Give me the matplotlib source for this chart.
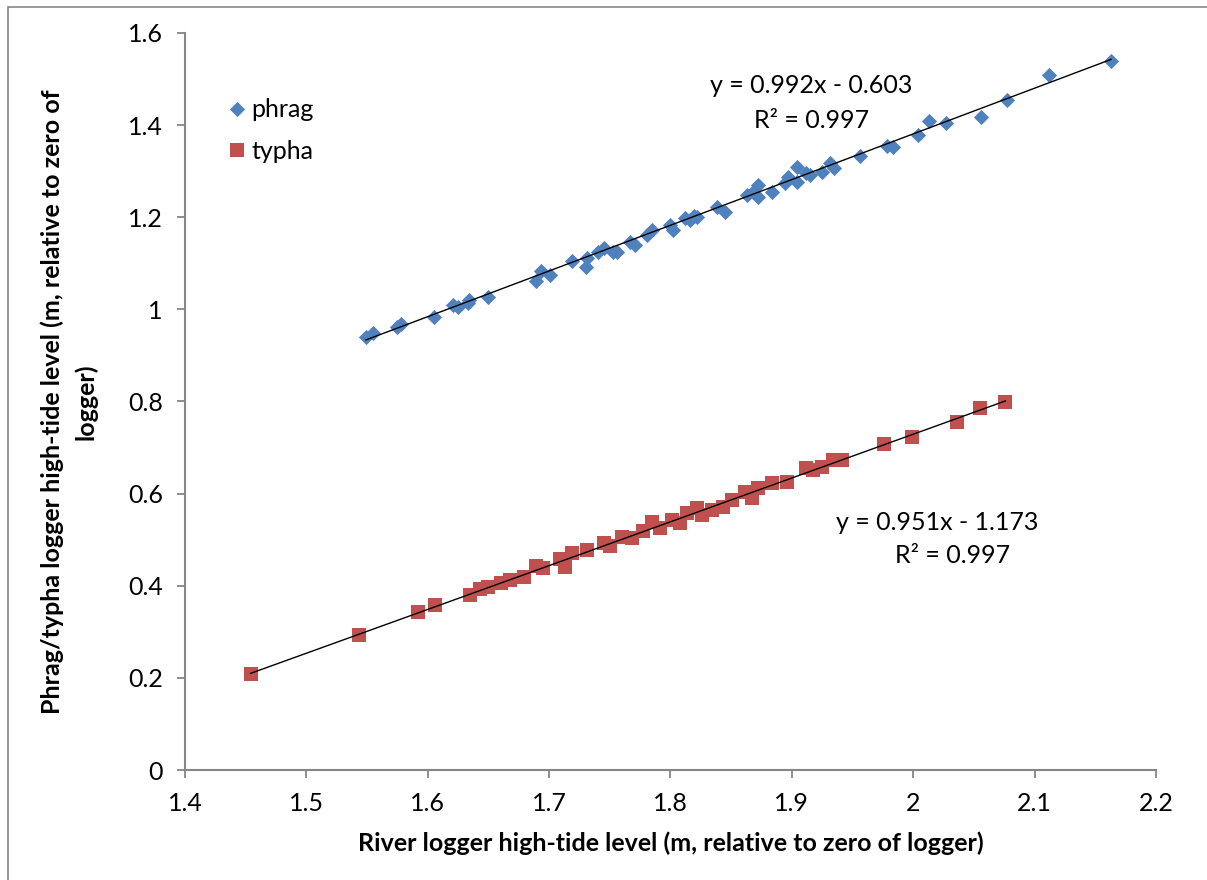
import matplotlib
matplotlib.use("Agg")
import matplotlib.pyplot as plt
from matplotlib.patches import Rectangle
import numpy as np

plt.rcParams['font.family'] = ['Lato', 'DejaVu Sans']

# ---- data ----
phrag_x = [1.549, 1.555, 1.575, 1.578, 1.605, 1.621, 1.625, 1.633, 1.634, 1.650,
           1.689, 1.693, 1.701, 1.719, 1.730, 1.731, 1.740, 1.745, 1.753, 1.756,
           1.767, 1.771, 1.781, 1.785, 1.800, 1.802, 1.812, 1.816, 1.819, 1.822,
           1.838, 1.845, 1.863, 1.868, 1.872, 1.872, 1.884, 1.894, 1.897, 1.904,
           1.904, 1.912, 1.915, 1.925, 1.931, 1.935, 1.956, 1.978, 1.983, 2.004,
           2.013, 2.027, 2.056, 2.077, 2.112, 2.163]
phrag_y = [0.940, 0.949, 0.962, 0.968, 0.983, 1.010, 1.005, 1.014, 1.020, 1.027,
           1.062, 1.083, 1.075, 1.105, 1.092, 1.112, 1.125, 1.133, 1.125, 1.125,
           1.146, 1.140, 1.162, 1.172, 1.183, 1.172, 1.198, 1.194, 1.203, 1.201,
           1.222, 1.211, 1.248, 1.255, 1.270, 1.244, 1.255, 1.274, 1.287, 1.309,
           1.277, 1.296, 1.292, 1.298, 1.318, 1.307, 1.333, 1.355, 1.353, 1.379,
           1.409, 1.405, 1.418, 1.455, 1.509, 1.539]

typha_x = [1.454, 1.543, 1.592, 1.606, 1.635, 1.643, 1.650, 1.660, 1.668, 1.679,
           1.689, 1.695, 1.709, 1.713, 1.719, 1.731, 1.745, 1.750, 1.760, 1.768,
           1.777, 1.785, 1.791, 1.801, 1.808, 1.814, 1.822, 1.826, 1.834, 1.843,
           1.851, 1.861, 1.867, 1.872, 1.884, 1.896, 1.912, 1.917, 1.925, 1.934,
           1.941, 1.976, 1.999, 2.036, 2.055, 2.076]
typha_y = [0.208, 0.293, 0.343, 0.358, 0.380, 0.393, 0.397, 0.406, 0.413, 0.419,
           0.443, 0.439, 0.458, 0.441, 0.471, 0.478, 0.493, 0.486, 0.506, 0.504,
           0.519, 0.538, 0.525, 0.543, 0.536, 0.558, 0.569, 0.554, 0.564, 0.571,
           0.586, 0.604, 0.591, 0.612, 0.623, 0.625, 0.656, 0.651, 0.658, 0.673,
           0.673, 0.708, 0.723, 0.756, 0.786, 0.799]

phrag_fit = (0.992, -0.603)
typha_fit = (0.951, -1.173)

series_names = ["phrag", "typha"]
phrag_eq = ["y = 0.992x - 0.603", "R² = 0.997"]
typha_eq = ["y = 0.951x - 1.173", "R² = 0.997"]

x_ticks = [1.4, 1.5, 1.6, 1.7, 1.8, 1.9, 2.0, 2.1, 2.2]
x_tick_labels = ["1.4", "1.5", "1.6", "1.7", "1.8", "1.9", "2", "2.1", "2.2"]
y_ticks = [0, 0.2, 0.4, 0.6, 0.8, 1.0, 1.2, 1.4, 1.6]
y_tick_labels = ["0", "0.2", "0.4", "0.6", "0.8", "1", "1.2", "1.4", "1.6"]

x_label = "River logger high-tide level (m, relative to zero of logger)"
y_label = "Phrag/typha logger high-tide level (m, relative to zero of\nlogger)"

# ---- figure ----
W, H = 1207, 880
fig = plt.figure(figsize=(W / 100, H / 100), dpi=100)
ax = fig.add_axes([185 / W, 1 - 770 / H, (1156 - 185) / W, (770 - 33) / H])

blue = "#4F81BD"
red = "#C0504D"
grey = "#868686"
FS = 18

ax.scatter(phrag_x, phrag_y, marker="D", s=60, color=blue, linewidths=0, zorder=3,
           label=series_names[0])
ax.scatter(typha_x, typha_y, marker="s", s=90, color=red, linewidths=0, zorder=3,
           label=series_names[1])

for xs, fit in ((phrag_x, phrag_fit), (typha_x, typha_fit)):
    xx = np.array([min(xs), max(xs)])
    ax.plot(xx, fit[0] * xx + fit[1], color="black", lw=1.0, zorder=4)

ax.set_xlim(1.4, 2.2)
ax.set_ylim(0, 1.6)
ax.set_xticks(x_ticks)
ax.set_xticklabels(x_tick_labels)
ax.set_yticks(y_ticks)
ax.set_yticklabels(y_tick_labels)

for s in ("top", "right"):
    ax.spines[s].set_visible(False)
for s in ("left", "bottom"):
    ax.spines[s].set_color(grey)
    ax.spines[s].set_linewidth(1.5)
ax.tick_params(axis="both", direction="out", length=6, width=1.3, color=grey,
               labelsize=FS, labelcolor="black")
ax.tick_params(axis="x", pad=10)
ax.tick_params(axis="y", pad=10)

ax.set_xlabel(x_label, fontsize=FS, fontweight="bold", labelpad=12)
ax.set_ylabel(y_label, fontsize=FS, fontweight="bold", labelpad=22,
              linespacing=1.5)

# trend equations
ax.text(1.916, 1.487, phrag_eq[0], fontsize=FS, ha="center", va="center")
ax.text(1.916, 1.411, phrag_eq[1], fontsize=FS, ha="center", va="center")
ax.text(2.020, 0.538, typha_eq[0], fontsize=FS, ha="center", va="center")
ax.text(2.032, 0.465, typha_eq[1], fontsize=FS, ha="center", va="center")

leg = ax.legend(loc="upper left", bbox_to_anchor=(0.03, 0.925), frameon=False,
                fontsize=FS, handletextpad=0.1, labelspacing=0.75,
                borderaxespad=0, scatteryoffsets=[0.5], handlelength=1.0)

# outer chart border
fig.patches.append(Rectangle((8 / W, -0.1), 1.2, 1 - 7 / H + 0.1,
                             transform=fig.transFigure, fill=False,
                             edgecolor=grey, lw=1.2))

fig.savefig("out.png", dpi=100)
